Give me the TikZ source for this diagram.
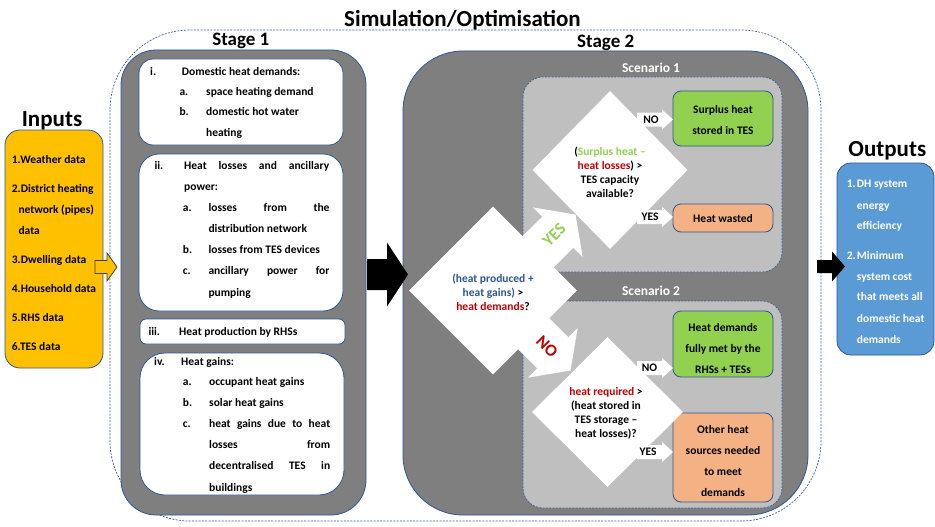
\documentclass[tikz,border=0pt]{standalone}
\usepackage{fontspec}
\setmainfont{Carlito}
\usetikzlibrary{shapes.geometric}
\definecolor{dgrey}{HTML}{7F7F7F}
\definecolor{lgrey}{HTML}{BFBFBF}
\definecolor{bline}{HTML}{2F5597}
\definecolor{dline}{HTML}{3A5F9E}
\definecolor{inyel}{HTML}{FFC000}
\definecolor{outblue}{HTML}{5B9BD5}
\definecolor{okgreen}{HTML}{92D050}
\definecolor{wasteor}{HTML}{F4B183}
\definecolor{tred}{HTML}{C00000}
\definecolor{tblue}{HTML}{2F5597}
\definecolor{tgreen}{HTML}{92D050}
\newcommand{\barrow}[8]{%
  \path[#1, shift={(#2,#3)}, rotate=#4] (0,-#6) -- (#5,-#6) -- (#5,-#8) -- ({#5+#7},0) -- (#5,#8) -- (#5,#6) -- (0,#6) -- cycle;}
\begin{document}
\begin{tikzpicture}[x=1pt,y=-1pt,
  txt/.style={inner sep=0pt, anchor=base west, font=\fontsize{11.5}{14}\selectfont\bfseries},
  wtxt/.style={txt, text=white},
  head/.style={inner sep=0pt, anchor=base, font=\fontsize{23}{26}\selectfont\bfseries},
  stagelbl/.style={inner sep=0pt, anchor=base, font=\fontsize{19}{22}\selectfont\bfseries},
  scenlbl/.style={inner sep=0pt, anchor=base, text=white, font=\fontsize{13.5}{16}\selectfont\bfseries},
  wbox/.style={draw=bline, fill=white, line width=0.8pt, inner sep=0pt},
  cbox/.style={draw=bline, line width=0.8pt, rounded corners=8pt, inner sep=0pt},
  ctext/.style={inner sep=0pt, align=center, font=\fontsize{11.5}{21}\selectfont\bfseries},
  dtext/.style={inner sep=0pt, align=center, font=\fontsize{11.5}{14}\selectfont\bfseries},
  dmd/.style={diamond, aspect=1, fill=white, draw=none, inner sep=0pt},
  arrlbl/.style={inner sep=0pt, font=\fontsize{11.5}{14}\selectfont\bfseries},
  bigl/.style={inner sep=0pt, font=\fontsize{17}{20}\selectfont\bfseries},
  dashframe/.style={draw=dline, dashed, dash pattern=on 2pt off 1.3pt, line width=0.7pt}]
\useasboundingbox (0,0) rectangle (935,527);
\fill[white] (0,0) rectangle (935,527);

% outer simulation frame
\path[dashframe, rounded corners=80pt] (110,30) rectangle (821,521);
\node[head] (title) at (462.5,26.7) {Simulation/Optimisation};
\node[stagelbl] (st1) at (240.8,46) {Stage 1};
\node[stagelbl] (st2) at (605.7,47.3) {Stage 2};

% stage 1
\draw[bline, fill=dgrey, line width=0.8pt, rounded corners=35pt] (121,50) rectangle (366,515);
\draw[wbox, rounded corners=14pt] (139,59) rectangle (343,145);
\draw[wbox, rounded corners=20pt] (139,154) rectangle (343,311);
\draw[wbox, rounded corners=6pt] (140,319) rectangle (345,344);
\draw[wbox, rounded corners=25pt] (140,353) rectangle (344,495);

\node[txt] (i1) at (150,75.7) {i.};
\node[txt] (i2) at (181.7,75.7) {Domestic heat demands:};
\node[txt] (i3) at (179.3,95.7) {a.};
\node[txt] (i4) at (206,95.7) {space heating demand};
\node[txt] (i5) at (179.3,116) {b.};
\node[txt] (i6) at (206,116) {domestic hot water};
\node[txt] (i7) at (206,136.7) {heating};

\node[txt] (j1) at (154.3,169.3) {ii.};
\node[txt] (j2) at (184,169.3) {\makebox[145pt][s]{Heat losses and ancillary}};
\node[txt] (j3) at (184,190) {power:};
\node[txt] (j4) at (182.7,211) {a.};
\node[txt] (j5) at (208.3,211) {\makebox[121pt][s]{losses from the}};
\node[txt] (j6) at (208.3,232.3) {distribution network};
\node[txt] (j7) at (182.7,253.3) {b.};
\node[txt] (j8) at (208.3,253.3) {losses from TES devices};
\node[txt] (j9) at (182.7,274.3) {c.};
\node[txt] (j10) at (208.3,274.3) {\makebox[121pt][s]{ancillary power for}};
\node[txt] (j11) at (208.3,296) {pumping};

\node[txt] (k1) at (148.3,335.7) {iii.};
\node[txt] (k2) at (179,335.7) {Heat production by RHSs};

\node[txt] (m1) at (154,365) {iv.};
\node[txt] (m2) at (181,365) {Heat gains:};
\node[txt] (m3) at (182.7,385.7) {a.};
\node[txt] (m4) at (209,385.7) {occupant heat gains};
\node[txt] (m5) at (182.7,406.7) {b.};
\node[txt] (m6) at (209,406.7) {solar heat gains};
\node[txt] (m7) at (182.7,427.7) {c.};
\node[txt] (m8) at (209,427.7) {\makebox[121pt][s]{heat gains due to heat}};
\node[txt] (m9) at (209,448.3) {\makebox[121pt][s]{losses from}};
\node[txt] (m10) at (209,469.3) {\makebox[121pt][s]{decentralised TES in}};
\node[txt] (m11) at (209,491) {buildings};

% stage 2
\draw[bline, fill=dgrey, line width=0.8pt, rounded corners=60pt] (403,51) rectangle (808,515);
\path[dashframe, fill=lgrey, rounded corners=20pt] (523,77) rectangle (782,272);
\path[dashframe, fill=lgrey, rounded corners=20pt] (523,301) rectangle (782,508);
\node[scenlbl] (sc1) at (651,72.7) {Scenario 1};
\node[scenlbl] (sc2) at (651,295.3) {Scenario 2};

\node[cbox, fill=okgreen, minimum width=100pt, minimum height=55pt] (g1) at (723,118.5) {};
\node[ctext] (g1t) at (723,120.5) {Surplus heat\\stored in TES};
\node[cbox, fill=wasteor, minimum width=100pt, minimum height=28pt] (o1) at (723,218) {};
\node[ctext] (o1t) at (723,219) {Heat wasted};
\node[cbox, fill=okgreen, minimum width=100pt, minimum height=66pt] (g2) at (723,344) {};
\node[ctext] (g2t) at (723,348.5) {Heat demands\\fully met by the\\RHSs + TESs};
\node[cbox, fill=wasteor, minimum width=100pt, minimum height=89pt] (o2) at (723,457.5) {};
\node[ctext] (o2t) at (723,461) {Other heat\\sources needed\\to meet\\demands};

% scenario diamonds
\node[dmd, minimum width=155pt, minimum height=158pt] (d1) at (610,170) {};
\node[dtext] (d1t) at (610,172) {({\color{tgreen}Surplus heat –}\\{\color{tred}heat losses}) >\\TES capacity\\available?};
\node[dmd, minimum width=151pt, minimum height=150pt] (d2) at (607.5,412) {};
\node[dtext] (d2t) at (606,413.5) {{\color{tred}heat required} >\\(heat stored in\\TES storage –\\heat losses)?};

% small white arrows
\barrow{fill=white}{637}{119.5}{0}{25}{7}{11}{10}
\node[arrlbl] (l1) at (651,119.5) {NO};
\barrow{fill=white}{637}{217}{0}{25}{7}{11}{10}
\node[arrlbl] (l2) at (650,217) {YES};
\barrow{fill=white}{637}{368}{0}{25}{7}{11}{10}
\node[arrlbl] (l3) at (649.5,368) {NO};
\barrow{fill=white}{637}{452}{0}{25}{7}{11}{10}
\node[arrlbl] (l4) at (648,452) {YES};

% main decision diamond and big arrows
\node[dmd, minimum width=168pt, minimum height=168pt] (d0) at (493,290.5) {};
\barrow{fill=white}{526}{264}{45}{45}{22}{25}{35}
\barrow{fill=white}{521}{321}{-45}{45}{22}{25}{35}
\node[dtext] (d0t) at (493,292) {{\color{tblue}(heat produced +}\\{\color{tblue}heat gains)} >\\{\color{tred}heat demands}?};
\node[bigl, text=tgreen, rotate=45] (yesl) at (554,235) {YES};
\node[bigl, text=tred, rotate=-45] (nol) at (547,347) {NO};

% stage 1 -> stage 2 arrow
\barrow{fill=black}{367}{274.5}{0}{20}{15.5}{21}{32}

% inputs
\node[head] (inh) at (52,126) {Inputs};
\draw[bline, fill=inyel, line width=0.8pt, rounded corners=15pt] (5,130) rectangle (103,368);
\node[txt] (p1) at (11.7,163.3) {1.Weather data};
\node[txt] (p2) at (11.7,192.7) {2.District heating};
\node[txt] (p3) at (18.3,213.3) {network (pipes)};
\node[txt] (p4) at (18.3,234.3) {data};
\node[txt] (p5) at (11.7,263.3) {3.Dwelling data};
\node[txt] (p6) at (11.7,292.7) {4.Household data};
\node[txt] (p7) at (11.7,321.7) {5.RHS data};
\node[txt] (p8) at (11.7,350.7) {6.TES data};
\barrow{fill=inyel, draw=black!75, line width=0.8pt}{95}{267}{0}{12}{6.5}{10}{14}

% outputs
\node[head] (outh) at (887.3,156.7) {Outputs};
\draw[bline, fill=outblue, line width=0.8pt, rounded corners=14pt] (837,163) rectangle (934,355);
\node[wtxt] (q1) at (846.7,187.3) {1.};
\node[wtxt] (q2) at (856.7,187.3) {DH system};
\node[wtxt] (q3) at (856.7,209) {energy};
\node[wtxt] (q4) at (856.7,229.3) {efficiency};
\node[wtxt] (q5) at (846.7,259.3) {2.};
\node[wtxt] (q6) at (856.7,259.3) {Minimum};
\node[wtxt] (q7) at (856.7,280) {system cost};
\node[wtxt] (q8) at (856.7,300.7) {that meets all};
\node[wtxt] (q9) at (856.7,322.3) {domestic heat};
\node[wtxt] (q10) at (856.7,343.3) {demands};
\barrow{fill=black}{817}{266.5}{0}{15}{6.5}{13}{15}
\end{tikzpicture}
\end{document}
